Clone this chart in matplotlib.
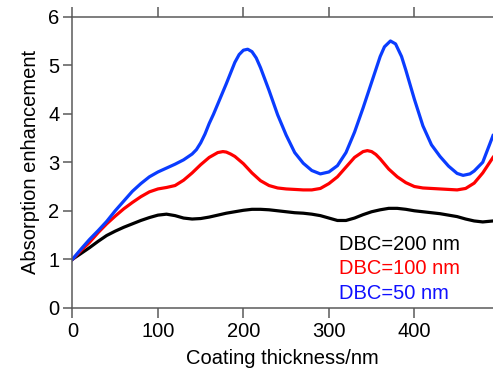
import matplotlib
matplotlib.use("Agg")
import matplotlib.pyplot as plt

plt.rcParams['font.family'] = ['Liberation Sans', 'DejaVu Sans']

# Coating thickness (nm) and absorption enhancement
x_blue = [0, 10, 20, 30, 40, 50, 60, 70, 80, 90, 100, 110, 120, 130, 140, 145,
          150, 155, 160, 165, 170, 180, 190, 195, 200, 205, 210, 215, 220, 230,
          240, 250, 260, 270, 280, 290, 300, 310, 320, 330, 340, 350, 360, 365,
          372, 378, 385, 390, 400, 410, 420, 430, 440, 450, 457, 465, 470, 480,
          492]
y_blue = [1.00, 1.21, 1.41, 1.59, 1.78, 2.00, 2.20, 2.40, 2.56, 2.70, 2.80, 2.88,
          2.96, 3.05, 3.17, 3.26, 3.40, 3.58, 3.80, 3.99, 4.20, 4.62, 5.06, 5.22,
          5.31, 5.33, 5.28, 5.15, 4.95, 4.48, 3.98, 3.56, 3.20, 2.98, 2.83, 2.76,
          2.80, 2.93, 3.20, 3.62, 4.12, 4.65, 5.18, 5.38, 5.50, 5.44, 5.18, 4.90,
          4.30, 3.75, 3.36, 3.12, 2.92, 2.77, 2.73, 2.76, 2.82, 3.00, 3.55]

x_red = [0, 10, 20, 30, 40, 50, 60, 70, 80, 90, 100, 110, 120, 130, 140, 150,
         160, 170, 176, 180, 185, 190, 200, 210, 220, 230, 240, 250, 260, 270,
         280, 290, 300, 310, 320, 330, 340, 345, 350, 355, 360, 370, 380, 390,
         400, 410, 420, 430, 440, 450, 460, 470, 480, 492]
y_red = [1.00, 1.18, 1.35, 1.55, 1.73, 1.89, 2.04, 2.17, 2.29, 2.39, 2.45, 2.48,
         2.52, 2.63, 2.78, 2.95, 3.10, 3.20, 3.22, 3.21, 3.17, 3.12, 2.97, 2.78,
         2.62, 2.52, 2.47, 2.45, 2.44, 2.43, 2.43, 2.46, 2.56, 2.70, 2.90, 3.10,
         3.22, 3.24, 3.22, 3.16, 3.07, 2.86, 2.70, 2.58, 2.50, 2.47, 2.46, 2.45,
         2.44, 2.43, 2.46, 2.57, 2.78, 3.10]

x_black = [0, 10, 20, 30, 40, 50, 60, 70, 80, 90, 100, 110, 120, 130, 140, 150,
           160, 170, 180, 190, 200, 210, 220, 230, 240, 250, 260, 270, 280, 290,
           300, 310, 320, 330, 340, 350, 360, 370, 380, 390, 400, 410, 420, 430,
           440, 450, 460, 470, 480, 492]
y_black = [1.00, 1.12, 1.24, 1.37, 1.49, 1.58, 1.66, 1.73, 1.80, 1.86, 1.91, 1.93,
           1.90, 1.85, 1.83, 1.84, 1.87, 1.91, 1.95, 1.98, 2.01, 2.03, 2.03, 2.02,
           2.00, 1.98, 1.96, 1.95, 1.93, 1.90, 1.85, 1.80, 1.80, 1.85, 1.92, 1.98,
           2.02, 2.05, 2.05, 2.03, 2.00, 1.98, 1.96, 1.94, 1.91, 1.88, 1.83, 1.79,
           1.77, 1.79]

labels = ["DBC=200 nm", "DBC=100 nm", "DBC=50 nm"]
xticks = [0, 100, 200, 300, 400]
yticks = [0, 1, 2, 3, 4, 5, 6]

fig = plt.figure(figsize=(4.93, 3.80), dpi=100)
ax = fig.add_axes([0.147, 0.190, 0.853, 0.766])

lw = 2.3
ax.plot(x_black, y_black, color="#000000", lw=lw, solid_joinstyle="round")
ax.plot(x_red, y_red, color="#ff0000", lw=lw, solid_joinstyle="round")
ax.plot(x_blue, y_blue, color="#0a3cff", lw=lw, solid_joinstyle="round")

ax.set_xlim(0, 492)
ax.set_ylim(0, 6)

spine_col = "#5a5a5a"
for s in ["left", "bottom", "top"]:
    ax.spines[s].set_color(spine_col)
    ax.spines[s].set_linewidth(1.1)
ax.spines["right"].set_visible(False)

ax.set_xticks(xticks)
ax.set_yticks(yticks)
ax.tick_params(axis="both", labelsize=14.5, labelcolor="#000000")
ax.tick_params(axis="x", direction="out", length=7.2, width=1.1, color=spine_col,
               pad=3, top=True, labeltop=False)
ax.tick_params(axis="y", direction="out", length=6.3, width=1.1, color=spine_col,
               pad=3, right=False)

ax.set_xlabel("Coating thickness/nm", fontsize=14.5, labelpad=6)
ax.set_ylabel("Absorption enhancement", fontsize=14.5, labelpad=6)

text_cols = ["#000000", "#ff0000", "#1010ff"]
text_y = [1.19, 0.695, 0.18]
for lab, c, yy in zip(labels, text_cols, text_y):
    ax.text(311.7, yy, lab, color=c, fontsize=14.5, va="baseline", ha="left")

fig.savefig("out.png", dpi=100)
